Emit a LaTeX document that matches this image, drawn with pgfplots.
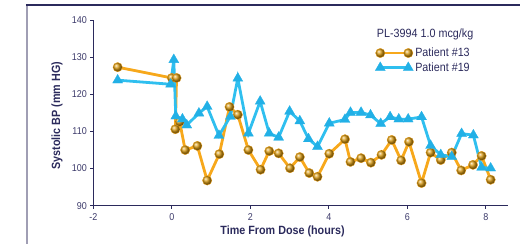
\documentclass[border=0pt]{standalone}
\usepackage{fontspec}
\setmainfont{Liberation Sans}[FakeStretch=0.9]
\usepackage{pgfplots}
\pgfplotsset{compat=1.18}
\definecolor{navy}{HTML}{2B2A5C}
\definecolor{ticktxt}{HTML}{3C3A6A}
\definecolor{orangeline}{HTML}{F7A81B}
\definecolor{orangeball}{HTML}{D99A12}
\definecolor{blueline}{HTML}{2FBFEF}
\definecolor{bluemark}{HTML}{22B0E6}
\definecolor{framegray}{HTML}{A09EB4}
\begin{document}
\begin{tikzpicture}[x=1bp,y=1bp]
\path[use as bounding box] (0,0) rectangle (520,243);
\draw[framegray, line width=1.6bp] (26.7,-2) -- (26.7,238);
\draw[navy, line width=1.3bp] (25.9,238) -- (522,238);
\begin{axis}[
  at={(93.3bp,37.3bp)}, anchor=south west,
  scale only axis, width=415bp, height=185.7bp,
  xmin=-2, xmax=8.57, ymin=90, ymax=140,
  axis lines=left, axis line style={navy, line width=1.1bp, -},
  xtick={-2,0,2,4,6,8}, ytick={90,100,...,140},
  tick style={navy, line width=0.9bp}, tick align=outside, major tick length=3bp,
  /pgf/number format/assume math mode=true,
  ticklabel style={font=\fontsize{10}{11}\selectfont, text=ticktxt},
  xticklabel style={yshift=-1bp},
  xlabel={Time From Dose (hours)}, ylabel={Systolic BP (mm HG)},
  label style={font=\fontsize{12}{13}\selectfont\bfseries, text=navy},
  x label style={at={(axis description cs:0.456,-0.140)}, anchor=center},
  y label style={at={(axis description cs:-0.0875,0.485)}, anchor=center},
  clip=false,
  legend style={draw=none, fill=none, at={(axis cs:5.10,133.6)}, anchor=north west,
    font=\fontsize{12}{13}\selectfont, text=navy, row sep=0.5bp,
    /tikz/every even column/.append style={column sep=0bp}},
  legend cell align=left,
  legend image code/.code={\draw[#1] plot coordinates {(0bp,0bp) (28bp,0bp)};},
]
\addplot[orangeline, line width=2.8bp, mark=ball, mark size=4.7bp, mark options={ball color=orangeball, line width=0.3bp}] coordinates {
(-1.38,127.3) (0.0,124.4) (0.12,124.4) (0.09,110.6) (0.2,112.6) (0.34,105.0)
(0.65,106.1) (0.90,96.8) (1.21,103.9) (1.47,116.6) (1.68,114.5) (1.95,105.0)
(2.26,99.7) (2.48,104.7) (2.72,104.1) (3.01,100.1) (3.26,103.1) (3.50,98.8)
(3.71,97.8) (4.01,104.0) (4.41,107.9) (4.55,101.8) (4.82,102.8) (5.07,101.6)
(5.34,103.7) (5.60,107.7) (5.84,102.2) (6.04,107.2) (6.36,96.1) (6.59,104.3)
(6.85,102.3) (7.13,104.3) (7.37,99.5) (7.67,101.0) (7.89,103.4) (8.12,97.0)
};
\addlegendentry{Patient \#13}
\addplot[blueline, line width=2.8bp, mark=triangle*, mark size=5.8bp, mark options={fill=bluemark, draw=bluemark, line width=0.3bp}] coordinates {
(-1.38,123.8) (-0.03,122.7) (0.05,129.3) (0.10,114.1) (0.27,113.3) (0.38,111.7)
(0.69,114.9) (0.90,116.7) (1.20,108.9) (1.49,114.0) (1.68,124.3) (1.95,109.5)
(2.25,118.1) (2.48,109.5) (2.72,108.4) (3.00,115.4) (3.26,112.8) (3.48,108.0)
(3.71,105.9) (4.01,112.2) (4.41,113.2) (4.55,115.1) (4.82,115.1) (5.06,114.4)
(5.32,112.1) (5.56,113.9) (5.78,113.3) (6.02,113.3) (6.36,113.9) (6.59,106.2)
(6.85,103.7) (7.13,103.2) (7.38,109.4) (7.68,109.0) (7.89,100.3) (8.12,100.1)
};
\addlegendentry{Patient \#19}
\node[anchor=west, text=navy, font=\fontsize{12}{13}\selectfont, inner sep=0pt] at (axis cs:5.22,136.2) {PL-3994 1.0 mcg/kg};
\end{axis}
\end{tikzpicture}
\end{document}
